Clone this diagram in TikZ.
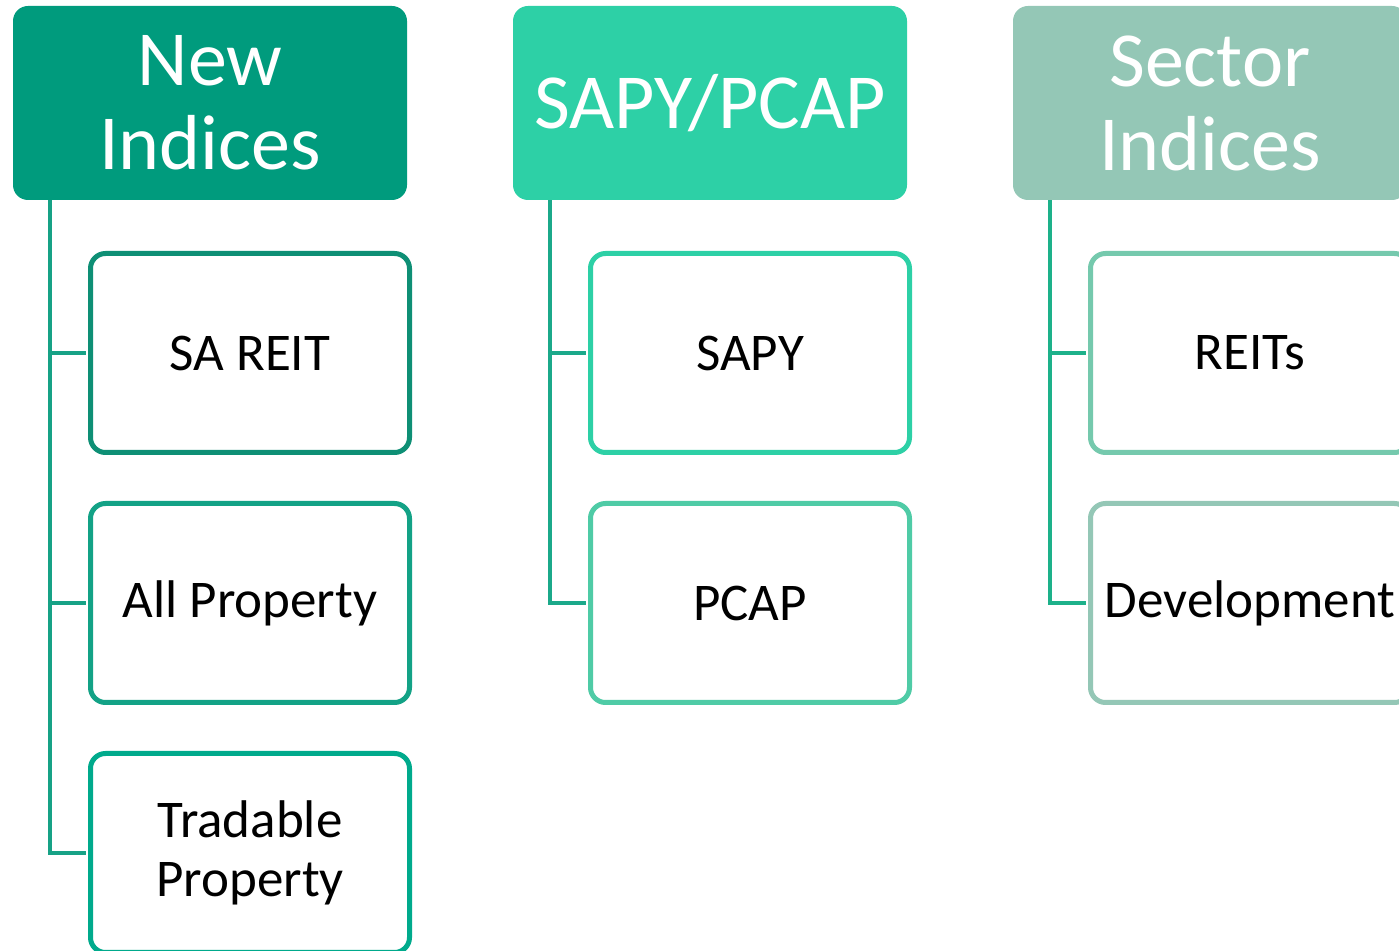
\documentclass[tikz,border=0pt]{standalone}
\usepackage{fontspec}
\setmainfont{Carlito}
\usepackage{tikz}

\definecolor{newhead}{HTML}{009B7D}
\definecolor{sapyhead}{HTML}{2DD0A6}
\definecolor{sectorhead}{HTML}{94C7B6}
\definecolor{reitline}{HTML}{0E8F75}
\definecolor{allline}{HTML}{13A286}
\definecolor{tradline}{HTML}{00AA8C}
\definecolor{sapyline}{HTML}{2DD0A6}
\definecolor{pcapline}{HTML}{4FCBA6}
\definecolor{reitsline}{HTML}{75C9AD}
\definecolor{devline}{HTML}{94C7B6}
\definecolor{connA}{HTML}{17A286}
\definecolor{connB}{HTML}{1BA98A}
\definecolor{connC}{HTML}{1DB18A}

\tikzset{
  head/.style={rounded corners=7.5pt, minimum width=197pt, minimum height=97pt, inner sep=0pt,
    text=white, align=center, font=\fontsize{39}{42}\selectfont},
  leaf/.style={draw, line width=2.5pt, rounded corners=7.5pt, fill=white, inner sep=0pt,
    minimum width=159.5pt, minimum height=99.5pt, align=center, font=\fontsize{26.5}{29.5}\selectfont},
  conn/.style={line width=2pt},
}

\begin{document}
\begin{tikzpicture}[x=0.5pt,y=-0.5pt]
    \useasboundingbox (0,0) rectangle (1399,951);
    \clip (0,0) rectangle (1399,951);
    % headers
    \node[head,fill=newhead] (hnew) at (210,103) {New\\Indices};
    \node[head,fill=sapyhead] (hsapy) at (710,103) {SAPY/PCAP};
    \node[head,fill=sectorhead] (hsector) at (1210,103) {Sector\\Indices};
    % children
    \node[leaf,draw=reitline] (cReit) at (250,353) {SA REIT};
    \node[leaf,draw=allline] (cAll) at (250,603) {All Property};
    \node[leaf,draw=tradline] (cTrad) at (250,853) {Tradable\\Property};
    \node[leaf,draw=sapyline] (cSapy) at (750,353) {SAPY};
    \node[leaf,draw=pcapline] (cPcap) at (750,603) {PCAP};
    \node[leaf,draw=reitsline] (cReits) at (1250,353) {REITs};
    \node[leaf,draw=devline] (cDev) at (1250,603) {Development};
    % connectors
    \foreach \h/\c/\col in {hnew/cReit/connA, hnew/cAll/connA, hnew/cTrad/connA,
      hsapy/cSapy/connB, hsapy/cPcap/connB, hsector/cReits/connC, hsector/cDev/connC} {
      \draw[conn,\col] ([xshift=18.5pt]\h.south west) |- ([xshift=-1.25pt]\c.west);
    }
\end{tikzpicture}
\end{document}
